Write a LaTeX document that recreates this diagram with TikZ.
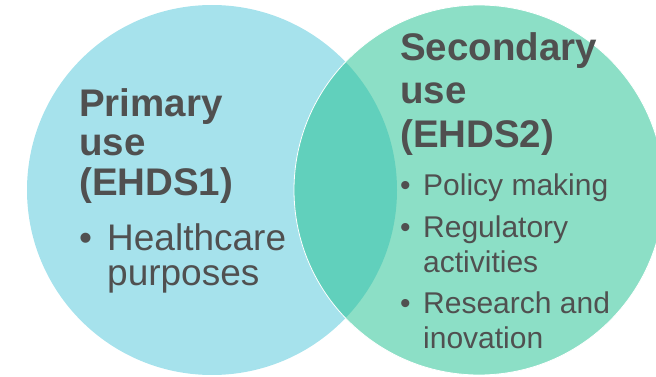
\documentclass[tikz,border=0pt]{standalone}
\usepackage{fontspec}
\setmainfont{Liberation Sans}
\usepackage{xcolor}
\usepackage{tikz}

\definecolor{primaryblue}{HTML}{A6E2EC}
\definecolor{secondarygreen}{HTML}{8CDFC6}
\definecolor{overlapteal}{HTML}{61D0BC}
\definecolor{textgray}{HTML}{505050}

\tikzset{
    heading/.style={anchor=base west, align=left, inner sep=0pt, text=textgray},
    bulletitem/.style={anchor=base west, align=left, inner sep=0pt, text=textgray}
}

\begin{document}
\begin{tikzpicture}[x=1pt, y=-1pt]
    \useasboundingbox (0,0) rectangle (656,377);

    % Centres
    \coordinate (P) at (212,190);
    \coordinate (S) at (479,190);

    % Circles
    \fill[primaryblue] (P) circle (185);
    \fill[secondarygreen] (S) circle (185);

    % Overlap
    \begin{scope}
        \clip (P) circle (185);
        \fill[overlapteal] (S) circle (185);
    \end{scope}
    \draw[white, line width=0.8pt] (S) circle (185);

    % Primary use (base = last line)
    \node[heading, font=\fontsize{38.5}{39.5}\selectfont\bfseries] (primary) at (79,195)
        {Primary\\use\\(EHDS1)};
    \node[bulletitem, font=\fontsize{37}{35}\selectfont] (health) at (107,285)
        {\llap{\textbullet\hspace{15pt}}Healthcare\\purposes};

    % Secondary use
    \node[heading, font=\fontsize{38.5}{44}\selectfont\bfseries] (secondary) at (400,148)
        {Secondary\\use\\(EHDS2)};
    \foreach \name/\y/\txt in {policy/195/{Policy making},
                               regulatory/272/{Regulatory\\activities},
                               research/348/{Research and\\inovation}} {
        \node[bulletitem, font=\fontsize{30}{34.5}\selectfont] (\name) at (423,\y)
            {\llap{\textbullet\hspace{12.5pt}}\txt};
    }
\end{tikzpicture}
\end{document}
